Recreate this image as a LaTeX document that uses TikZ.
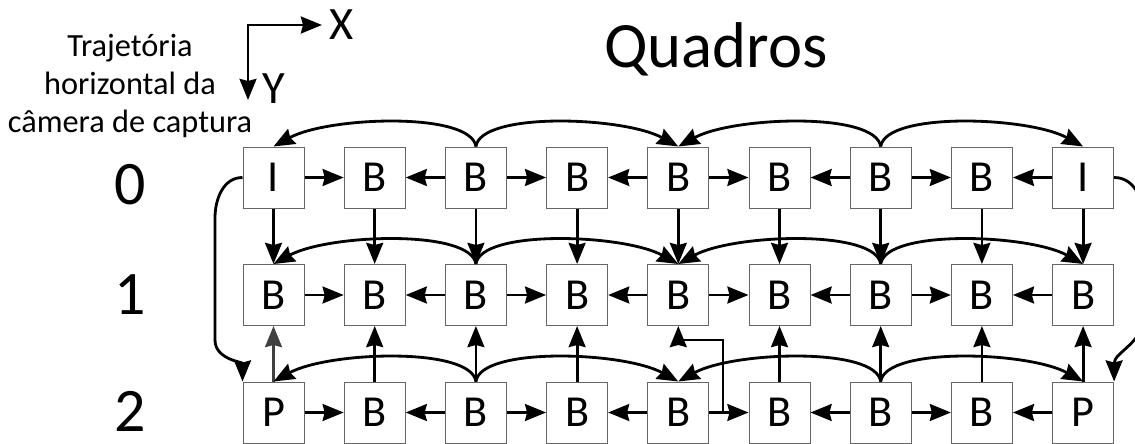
\documentclass[tikz,border=0pt]{standalone}
\usepackage{fontspec}
\setmainfont{Carlito}
\usetikzlibrary{arrows.meta}

\begin{document}
\begin{tikzpicture}[
        x=0.025cm, y=0.025cm,
        ponta/.tip={Stealth[length=15pt, width=12pt, inset=1.5pt]},
        quadro/.style={draw=black!60, line width=0.7pt, fill=white, minimum size=1.525cm, inner sep=0pt, font=\fontsize{31.5}{32}\selectfont},
        seta/.style={-ponta, line width=2pt},
        rotulo/.style={inner sep=0pt, font=\fontsize{44}{44}\selectfont}
    ]
    \useasboundingbox (0,0) rectangle (1135,443);
    \clip (0,0) rectangle (1135,443);

    % Titulos
    \node[font=\fontsize{46}{46}\selectfont, anchor=base] (titulo) at (716,376) {Quadros};
    \node[align=center, font=\fontsize{23}{26.7}\selectfont] (trajetoria) at (130,357) {Trajetória\\horizontal da\\câmera de captura};

    % Eixos
    \coordinate (origem) at (248,418);
    \coordinate (fimX) at (322,418);
    \coordinate (fimY) at (248,343);
    \node[font=\fontsize{33}{33}\selectfont] (eixoX) at (342,418) {X};
    \node[font=\fontsize{33}{33}\selectfont] (eixoY) at (274,354) {Y};
    \draw[ponta-ponta, line width=2pt] (fimY) -- (origem) -- (fimX);

    % Linhas
    \node[rotulo] (linha0) at (130,258) {0};
    \node[rotulo] (linha1) at (130,148) {1};
    \node[rotulo] (linha2) at (130,32) {2};

    % Quadros
    \foreach \t [count=\i from 0] in {I,B,B,B,B,B,B,B,I}
        \node[quadro] (q0-\i) at ({273.5+101.2*\i},265.5) {\t};
    \foreach \t [count=\i from 0] in {B,B,B,B,B,B,B,B,B}
        \node[quadro] (q1-\i) at ({273.5+101.2*\i},148) {\t};
    \foreach \t [count=\i from 0] in {P,B,B,B,B,B,B,B,P}
        \node[quadro] (q2-\i) at ({273.5+101.2*\i},30.5) {\t};

    % Arestas horizontais
    \foreach \r in {0,1,2}
        \foreach \a/\b in {0/1,2/1,2/3,4/3,4/5,6/5,6/7,8/7}
            \draw[seta] (q\r-\a) -- (q\r-\b);

    % Arestas verticais
    \foreach \i in {0,...,8}
        \draw[seta] (q0-\i) -- (q1-\i);
    \foreach \i in {1,2,3,5,6,7,8}
        \draw[seta] (q2-\i) -- (q1-\i);
    \draw[seta, black!75] (q2-0) -- (q1-0);

    % Arcos
    \foreach \r in {0,1,2} {
        \foreach \a/\b in {2/0,6/4}
            \draw[seta] (q\r-\a.north) .. controls +(-5,35) and +(55,30) .. (q\r-\b.north);
        \foreach \a/\b in {2/4,6/8}
            \draw[seta] (q\r-\a.north) .. controls +(5,35) and +(-55,30) .. (q\r-\b.north);
    }

    % Desvio
    \coordinate (desvio) at (723,30.5);
    \draw[seta] (desvio) -- ++(0,72.5) -| (q1-4.south);

    % Laterais
    \draw[seta] (q0-0.west) to[out=180,in=90] (215,225) -- (215,103) to[out=-90,in=90] (q2-0.north west);
    \draw[seta] (q0-8.east) to[out=0,in=90] (1145,215) -- (1145,130) to[out=-90,in=90] (q2-8.north east);
\end{tikzpicture}
\end{document}
